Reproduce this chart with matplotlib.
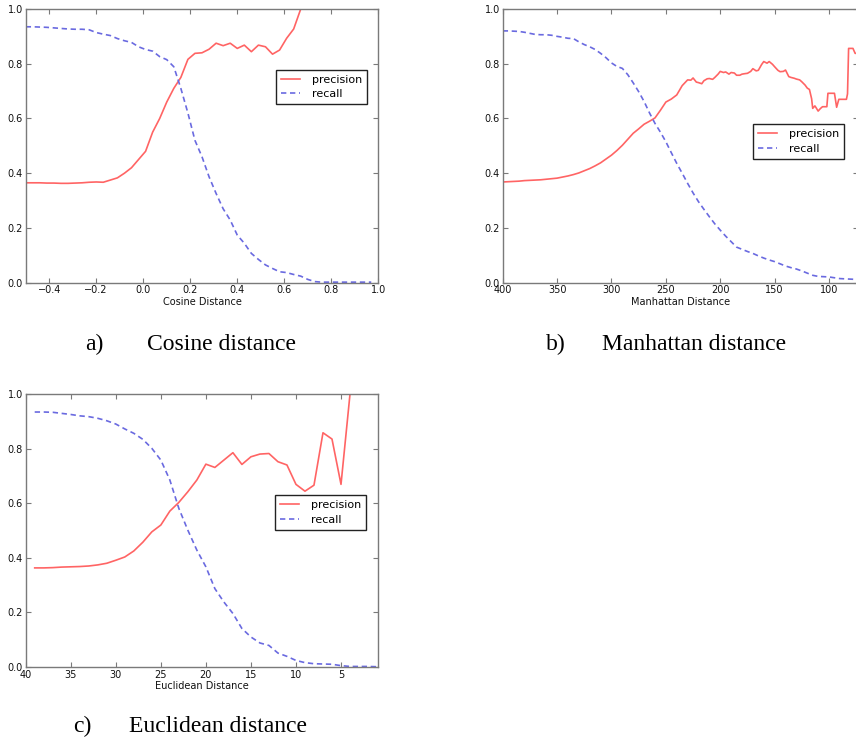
import matplotlib
matplotlib.use("Agg")
import matplotlib.pyplot as plt

# ---------------- data ----------------
# a) Cosine distance
cos_x = [-0.50, -0.47, -0.44, -0.41, -0.38, -0.35, -0.32, -0.29, -0.26, -0.23,
         -0.20, -0.17, -0.14, -0.11, -0.08, -0.05, -0.02, 0.01, 0.04, 0.07,
         0.10, 0.13, 0.16, 0.19, 0.22, 0.25, 0.28, 0.31, 0.34, 0.37,
         0.40, 0.43, 0.46, 0.49, 0.52, 0.55, 0.58, 0.61, 0.64, 0.67,
         0.70, 0.73, 0.76, 0.79, 0.82, 0.85, 0.88, 0.91, 0.94, 0.97]
cos_precision = [0.365, 0.365, 0.365, 0.364, 0.364, 0.363, 0.363, 0.364, 0.365, 0.367,
                 0.368, 0.367, 0.375, 0.383, 0.400, 0.420, 0.450, 0.480, 0.550, 0.600,
                 0.660, 0.710, 0.750, 0.816, 0.838, 0.840, 0.853, 0.875, 0.866, 0.875,
                 0.856, 0.868, 0.844, 0.868, 0.862, 0.835, 0.850, 0.893, 0.927, 1.000]
cos_recall = [0.935, 0.935, 0.934, 0.933, 0.931, 0.929, 0.927, 0.926, 0.926, 0.924,
              0.914, 0.908, 0.903, 0.892, 0.884, 0.878, 0.862, 0.852, 0.846, 0.826,
              0.815, 0.789, 0.710, 0.620, 0.520, 0.460, 0.387, 0.326, 0.270, 0.229,
              0.174, 0.144, 0.107, 0.085, 0.065, 0.052, 0.040, 0.037, 0.030, 0.024,
              0.012, 0.004, 0.002, 0.002, 0.002, 0.002, 0.002, 0.002, 0.002, 0.002]

# b) Manhattan distance
man_px = [400, 395, 390, 385, 380, 375, 370, 365, 360, 355, 350, 345, 340, 335, 330,
          325, 320, 315, 310, 305, 300, 295, 290, 285, 280, 275, 270, 265, 260, 255,
          250, 245, 240, 235, 230, 227, 225, 222, 220, 217, 215, 212, 210, 207, 205,
          202, 200, 197, 195, 192, 190, 187, 185, 182, 180, 177, 175, 172, 170, 167,
          165, 162, 160, 157, 155, 152, 150, 147, 145, 142, 140, 137, 135, 132, 130,
          127, 125, 122, 120, 118, 116, 115, 113, 112, 110, 108, 106, 104, 102, 101,
          98, 95, 93, 91, 88, 84, 83, 82, 80, 78, 76, 74]
man_precision = [0.368, 0.369, 0.370, 0.371, 0.373, 0.374, 0.375, 0.376, 0.378, 0.380,
                 0.382, 0.386, 0.390, 0.395, 0.401, 0.409, 0.417, 0.427, 0.438, 0.452,
                 0.466, 0.483, 0.502, 0.524, 0.546, 0.562, 0.579, 0.590, 0.602, 0.630,
                 0.660, 0.671, 0.686, 0.720, 0.741, 0.740, 0.748, 0.733, 0.731, 0.727,
                 0.738, 0.745, 0.746, 0.743, 0.750, 0.762, 0.772, 0.768, 0.770, 0.762,
                 0.768, 0.766, 0.758, 0.758, 0.762, 0.764, 0.765, 0.772, 0.782, 0.774,
                 0.776, 0.797, 0.808, 0.802, 0.808, 0.798, 0.789, 0.776, 0.771, 0.772,
                 0.777, 0.753, 0.750, 0.747, 0.744, 0.741, 0.734, 0.722, 0.711, 0.706,
                 0.672, 0.637, 0.646, 0.640, 0.627, 0.636, 0.643, 0.643, 0.643, 0.692,
                 0.692, 0.692, 0.641, 0.670, 0.670, 0.670, 0.690, 0.856, 0.856, 0.856,
                 0.838, 0.838]
man_rx = [400, 395, 390, 385, 380, 375, 370, 365, 360, 355, 350, 345, 340, 335, 330,
          325, 320, 315, 310, 305, 300, 295, 290, 285, 280, 275, 270, 265, 260, 255,
          250, 245, 240, 235, 230, 225, 220, 215, 210, 205, 200, 195, 190, 185, 180,
          175, 170, 165, 160, 155, 150, 145, 140, 135, 130, 125, 120, 115, 110, 105,
          100, 95, 90, 85, 80, 75, 74]
man_recall = [0.920, 0.920, 0.919, 0.918, 0.915, 0.911, 0.907, 0.906, 0.906, 0.904,
              0.900, 0.897, 0.893, 0.892, 0.880, 0.870, 0.862, 0.852, 0.838, 0.822,
              0.803, 0.790, 0.783, 0.760, 0.730, 0.698, 0.662, 0.620, 0.582, 0.550,
              0.515, 0.475, 0.436, 0.400, 0.363, 0.328, 0.296, 0.268, 0.241, 0.215,
              0.192, 0.170, 0.150, 0.130, 0.122, 0.114, 0.107, 0.098, 0.090, 0.083,
              0.077, 0.069, 0.061, 0.055, 0.050, 0.043, 0.035, 0.027, 0.023, 0.022,
              0.021, 0.018, 0.015, 0.014, 0.013, 0.012, 0.012]

# c) Euclidean distance
euc_x = [39, 38, 37, 36, 35, 34, 33, 32, 31, 30, 29, 28, 27, 26, 25, 24, 23, 22, 21, 20,
         19, 18, 17, 16, 15, 14, 13, 12, 11, 10, 9, 8, 7, 6, 5, 4, 3, 2, 1]
euc_precision = [0.363, 0.363, 0.364, 0.366, 0.367, 0.368, 0.370, 0.374, 0.380, 0.391,
                 0.403, 0.425, 0.457, 0.495, 0.520, 0.571, 0.603, 0.642, 0.685, 0.743,
                 0.731, 0.758, 0.785, 0.742, 0.770, 0.780, 0.782, 0.752, 0.740, 0.669,
                 0.644, 0.666, 0.858, 0.835, 0.669, 1.000]
euc_recall = [0.934, 0.934, 0.933, 0.929, 0.925, 0.920, 0.917, 0.911, 0.902, 0.890,
              0.872, 0.856, 0.834, 0.801, 0.758, 0.685, 0.581, 0.501, 0.428, 0.367,
              0.287, 0.238, 0.196, 0.141, 0.110, 0.088, 0.079, 0.051, 0.039, 0.024,
              0.016, 0.012, 0.011, 0.010, 0.005, 0.002, 0.002, 0.002, 0.001]

# ---------------- styling ----------------
PREC_COLOR = "#ff6464"
REC_COLOR = "#6a6ae0"
SPINE_COLOR = "#7a7a7a"
TICK_FS = 7
LW = 1.2
DASH = (3.2, 2.2)

fig = plt.figure(figsize=(8.56, 7.42), dpi=100)
W, H = 856.0, 742.0


def make_ax(left, top, right, bottom):
    return fig.add_axes([left / W, 1 - bottom / H, (right - left) / W, (bottom - top) / H])


def style(ax, xlabel, xlim, xticks, xticklabels, legend_anchor):
    ax.set_xlim(*xlim)
    ax.set_ylim(0, 1.0)
    ax.set_xticks(xticks)
    ax.set_xticklabels(xticklabels)
    ax.set_yticks([0.0, 0.2, 0.4, 0.6, 0.8, 1.0])
    ax.set_yticklabels(["0.0", "0.2", "0.4", "0.6", "0.8", "1.0"])
    ax.tick_params(direction="in", length=3.5, width=0.8, color=SPINE_COLOR,
                   labelsize=TICK_FS, pad=2, top=True, right=True, labelcolor="#111111")
    for s in ax.spines.values():
        s.set_color(SPINE_COLOR)
        s.set_linewidth(1.0)
    ax.set_xlabel(xlabel, fontsize=TICK_FS, labelpad=1, color="#111111")
    leg = ax.legend(loc="center right", bbox_to_anchor=legend_anchor, fontsize=8,
                    frameon=True, fancybox=False, framealpha=1.0, edgecolor="#222222",
                    borderpad=0.45, labelspacing=0.4, handlelength=1.7,
                    handletextpad=1.1, borderaxespad=0)
    leg.get_frame().set_linewidth(1.0)


# a) Cosine
ax1 = make_ax(25.7, 9, 378.3, 282.7)
ax1.plot(cos_x[:len(cos_precision)], cos_precision, color=PREC_COLOR, lw=LW, label="precision")
ax1.plot(cos_x, cos_recall, color=REC_COLOR, lw=LW, dashes=DASH, label="recall")
style(ax1, "Cosine Distance", (-0.5, 1.0),
      [-0.4, -0.2, 0.0, 0.2, 0.4, 0.6, 0.8, 1.0],
      ["\u22120.4", "\u22120.2", "0.0", "0.2", "0.4", "0.6", "0.8", "1.0"],
      (0.968, 0.715))

# b) Manhattan (right edge of the axes falls just outside the image, as in the reference)
ax2 = make_ax(502.7, 9, 858.5, 282.7)
ax2.plot(man_px, man_precision, color=PREC_COLOR, lw=LW, label="precision")
ax2.plot(man_rx, man_recall, color=REC_COLOR, lw=LW, dashes=DASH, label="recall")
style(ax2, "Manhattan Distance", (400, 72.9),
      [400, 350, 300, 250, 200, 150, 100],
      ["400", "350", "300", "250", "200", "150", "100"],
      (0.96, 0.516))

# c) Euclidean
ax3 = make_ax(25.7, 394, 378.3, 667)
ax3.plot(euc_x[:len(euc_precision)], euc_precision, color=PREC_COLOR, lw=LW, label="precision")
ax3.plot(euc_x, euc_recall, color=REC_COLOR, lw=LW, dashes=DASH, label="recall")
style(ax3, "Euclidean Distance", (40, 0.86),
      [40, 35, 30, 25, 20, 15, 10, 5],
      ["40", "35", "30", "25", "20", "15", "10", "5"],
      (0.966, 0.566))

# captions
CAP_FS = 17
serif = ["Liberation Serif", "DejaVu Serif"]
captions = [("a)", 85, "Cosine distance", 147, 350),
            ("b)", 546, "Manhattan distance", 602, 350.5),
            ("c)", 73, "Euclidean distance", 129, 732.5)]
for lab, lx, txt, tx, by in captions:
    fig.text(lx / W, 1 - by / H, lab, fontsize=CAP_FS, family=serif, va="baseline", ha="left")
    fig.text(tx / W, 1 - by / H, txt, fontsize=CAP_FS, family=serif, va="baseline", ha="left")

fig.savefig("out.png", dpi=100)
